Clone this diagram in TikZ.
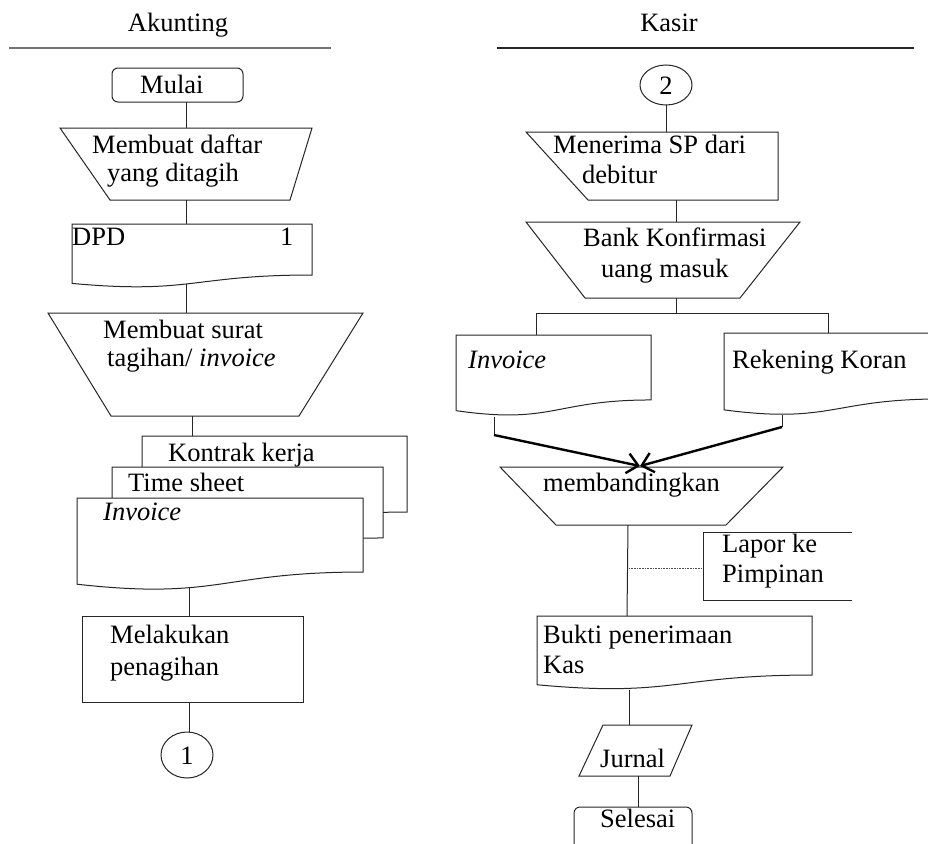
\documentclass[tikz,border=0pt]{standalone}
\usepackage{fontspec}
\setmainfont{Liberation Serif}
\usetikzlibrary{arrows.meta}
\tikzset{
  shp/.style={draw=black!85, line width=1pt, fill=white},
  conn/.style={draw=black!85, line width=1pt},
  txt/.style={inner sep=0pt, font=\fontsize{26.5}{30}\selectfont, anchor=base west},
  thickarrow/.style={draw=black, line width=2.4pt, -{Straight Barb[length=11pt,width=20pt]}},
}
% document shape: L, T, R, h
\newcommand\docshp[4]{%
  \draw[shp] (#1,#2) -- (#3,#2) -- (#3,{#2+0.802*#4})
    .. controls ({(#1+#3)/2},{#2+0.802*#4}) and ({(#1+#3)/2},{#2+1.107*#4}) ..
    (#1,{#2+0.934*#4}) -- cycle;}
\begin{document}
\begin{tikzpicture}[x=1pt,y=-1pt]
\useasboundingbox (0,0) rectangle (928,843);
\clip (0,0) rectangle (928,843);
\fill[white] (0,0) rectangle (928,843);

% ---------- headers ----------
\node[txt, anchor=base] (hA) at (178,32) {Akunting};
\node[txt, anchor=base] (hK) at (669,32) {Kasir};
\draw[draw=black!55, line width=1.2pt] (9,48) -- (331,48);
\draw[draw=black!85, line width=1.2pt] (497,48) -- (914,48);

% ---------- Akunting column ----------
\draw[shp, rounded corners=6pt] (112,68) rectangle (243,102);
\node[txt] (tMulai) at (140,93) {Mulai};

\draw[shp] (60,128) -- (312,128) -- (290,200) -- (110,200) -- cycle;
\node[txt] (tA1) at (92,153) {Membuat daftar};
\node[txt] (tA2) at (107,181) {yang ditagih};

\docshp{72}{224}{312}{63.6}
\node[txt] (tDPD) at (72,245) {DPD};
\node[txt] (tDPD1) at (280,245) {1};

\draw[shp] (48,313) -- (363,313) -- (299,416) -- (111,416) -- cycle;
\node[txt] (tB1) at (103,338) {Membuat surat};
\node[txt] (tB2) at (107,366) {tagihan/ \textit{invoice}};

\docshp{142}{436}{407}{94.8}
\node[txt] (tKK) at (168,461) {Kontrak kerja};
\docshp{112}{467}{383}{88.5}
\node[txt] (tTS) at (128,491) {Time sheet};
\docshp{77}{498}{363}{92.3}
\node[txt] (tInv) at (103,520) {\textit{Invoice}};

\draw[shp] (82,616) rectangle (303,702);
\node[txt] (tM1) at (110,643) {Melakukan};
\node[txt] (tM2) at (110,675) {penagihan};

\draw[shp] (187,755) ellipse [x radius=26, y radius=23];
\node[txt, anchor=base] (tC1) at (187,764) {1};

% connectors left
\coordinate (a1) at (186,102); \coordinate (a2) at (186,128);
\coordinate (a3) at (186,200); \coordinate (a4) at (186,224);
\coordinate (a5) at (186,284); \coordinate (a6) at (186,313);
\coordinate (a7) at (192,416); \coordinate (a8) at (192,436);
\coordinate (a9) at (189,588); \coordinate (a10) at (189,616);
\coordinate (a11) at (189,702); \coordinate (a12) at (189,732);
\draw[conn] (a1) -- (a2);
\draw[conn] (a3) -- (a4);
\draw[conn] (a5) -- (a6);
\draw[conn] (a7) -- (a8);
\draw[conn] (a9) -- (a10);
\draw[conn] (a11) -- (a12);

% ---------- Kasir column ----------
\draw[shp] (666,85) ellipse [x radius=26, y radius=20];
\node[txt, anchor=base] (tC2) at (666,94) {2};

\draw[shp] (526,132) -- (778,132) -- (778,200) -- (588,200) -- cycle;
\node[txt] (tK1) at (553,153) {Menerima SP dari};
\node[txt] (tK2) at (582,183) {debitur};

\draw[shp] (526,222) -- (800,222) -- (740,298) -- (585,298) -- cycle;
\node[txt] (tK3) at (583,246) {Bank Konfirmasi};
\node[txt] (tK4) at (601,277) {uang masuk};

\docshp{456}{335}{651}{81}
\node[txt] (tInv2) at (468,368) {\textit{Invoice}};
\docshp{724}{333}{940}{82.3}
\node[txt] (tRK) at (732,368) {Rekening Koran};

\draw[shp] (500,467) -- (783,467) -- (726,525) -- (556,525) -- cycle;
\node[txt] (tBand) at (543,491) {membandingkan};

\draw[shp] (852,532) -- (703,532) -- (703,600) -- (852,600);
\node[txt] (tL1) at (722,552) {Lapor ke};
\node[txt] (tL2) at (722,582) {Pimpinan};

\docshp{537}{616}{812}{73.6}
\node[txt] (tBK1) at (543,643) {Bukti penerimaan};
\node[txt] (tBK2) at (543,673) {Kas};

\draw[shp] (603,725) -- (692,725) -- (670,776) -- (579,776) -- cycle;
\node[txt] (tJ) at (600,767) {Jurnal};

\draw[shp, rounded corners=6pt] (574,807) rectangle (692,870);
\node[txt] (tSel) at (600,827) {Selesai};

% connectors right
\coordinate (b1) at (666,105); \coordinate (b2) at (666,132);
\coordinate (b3) at (676,200); \coordinate (b4) at (676,222);
\coordinate (b5) at (676,298); \coordinate (b6) at (676,313);
\coordinate (bl) at (536,313); \coordinate (br) at (828,313);
\coordinate (bl2) at (536,335); \coordinate (br2) at (828,333);
\coordinate (c1) at (494,417); \coordinate (c2) at (494,435);
\coordinate (d1) at (782,415); \coordinate (d2) at (782,427);
\coordinate (tip) at (640,466);
\coordinate (e1) at (628,525); \coordinate (e2) at (627,616);
\coordinate (f1) at (629,568); \coordinate (f2) at (702,568);
\coordinate (g1) at (629,690); \coordinate (g2) at (629,725);
\coordinate (h1) at (638,776); \coordinate (h2) at (638,807);
\draw[conn] (b1) -- (b2);
\draw[conn] (b3) -- (b4);
\draw[conn] (b5) -- (b6);
\draw[conn] (bl2) -- (bl) -- (br) -- (br2);
\draw[conn] (c1) -- (c2);
\draw[conn] (d1) -- (d2);
\draw[thickarrow] (c2) -- (tip);
\draw[thickarrow] (d2) -- (tip);
\draw[conn] (e1) -- (e2);
\draw[draw=black!70, line width=0.8pt, dash pattern=on 1pt off 0.6pt] (f1) -- (f2);
\draw[conn] (g1) -- (g2);
\draw[conn] (h1) -- (h2);
\end{tikzpicture}
\end{document}
